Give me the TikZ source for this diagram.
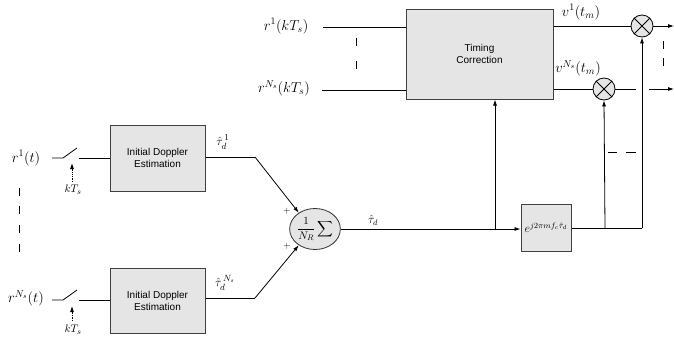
\documentclass[tikz,border=0pt]{standalone}
\usepackage{amsmath,amssymb}
\usepackage{fontspec}
\newfontfamily\boxfont{Liberation Sans}
\usetikzlibrary{arrows.meta,shapes.geometric}

\begin{document}
\begin{tikzpicture}[x=1pt,y=-1pt,line width=0.8pt,
	blk/.style={draw=black!75,fill=gray!20,line width=1pt,font=\boxfont\fontsize{10}{12}\selectfont,align=center,inner sep=0pt},
	lbl/.style={font=\fontsize{14.5}{16}\selectfont,inner sep=1pt},
	mult/.style={draw=black,fill=gray!20,circle,minimum size=22pt,inner sep=0pt},
	tip/.style={-{Latex[length=6pt,width=4pt]}},
	bar/.style={line width=1pt}]
	\useasboundingbox (0,0) rectangle (674,341);
	% blocks
	\node[blk,minimum width=95pt,minimum height=66pt] (ide1) at (157.5,158) {Initial Doppler\\Estimation};
	\node[blk,minimum width=95pt,minimum height=65pt] (ide2) at (157.5,300.5) {Initial Doppler\\Estimation};
	\node[blk,minimum width=147pt,minimum height=90pt] (tc) at (479.5,54) {Timing\\Correction};
	\node[blk,minimum width=50pt,minimum height=47pt] (ex) at (546,227.5) {\fontsize{12}{13}\selectfont$e^{j2\pi m f_c\hat{\tau}_d}$};
	\node[draw=black!80,fill=gray!20,ellipse,minimum width=50pt,minimum height=41pt,inner sep=0pt] (sum) at (315,229) {\fontsize{11}{12}\selectfont$\displaystyle\frac{1}{N_R}\sum$};
	\node[mult] (m1) at (642,26) {};
	\node[mult] (m2) at (604,89) {};
	\draw (m1.north west) -- (m1.south east) (m1.north east) -- (m1.south west);
	\draw (m2.north west) -- (m2.south east) (m2.north east) -- (m2.south west);
	% input side
	\node[lbl] (r1) at (26,158) {$r^{1}(t)$};
	\node[lbl] (rn) at (26,298) {$r^{N_s}(t)$};
	\node[lbl,font=\fontsize{11}{13}\selectfont] (k1) at (73,190) {$kT_s$};
	\node[lbl,font=\fontsize{11}{13}\selectfont] (k2) at (73,330) {$kT_s$};
	\coordinate (s1a) at (52,158); \coordinate (s1b) at (63,158);
	\coordinate (s1c) at (77,148); \coordinate (s1d) at (79,158);
	\coordinate (s2a) at (52,300); \coordinate (s2b) at (63,300);
	\coordinate (s2c) at (77,290); \coordinate (s2d) at (79,300);
	\draw (s1a) -- (s1b) -- (s1c);
	\draw (s1d) -- (s1d -| ide1.west);
	\draw (s2a) -- (s2b) -- (s2c);
	\draw (s2d) -- (s2d -| ide2.west);
	\draw[densely dotted,tip] (72,182) -- (72,163);
	\draw[densely dotted,tip] (72,321) -- (72,306);
	\foreach \y in {192,210,229,248}
		\draw[bar] (19,\y-4) -- (19,\y+4);
	% estimates to the sum
	\coordinate (b1) at (255,157);
	\coordinate (b2) at (255,298);
	\draw (ide1.east |- b1) -- (b1);
	\draw[tip] (b1) -- (sum.135);
	\draw (ide2.east |- b2) -- (b2);
	\draw[tip] (b2) -- (sum.225);
	\node[lbl,font=\fontsize{13}{15}\selectfont] at (223,142) {$\hat{\tau}^{\,1}_{d}$};
	\node[lbl,font=\fontsize{13}{15}\selectfont] at (225,283) {$\hat{\tau}^{\,N_s}_{d}$};
	\node[font=\small] at (287,211) {$+$};
	\node[font=\small] at (287,246) {$+$};
	% sum to phase term
	\draw[tip] (sum.east) -- (ex.west |- sum.east);
	\node[lbl,font=\fontsize{12}{13}\selectfont] at (373,220) {$\hat{\tau}_d$};
	\coordinate (j1) at (495,229);
	\draw[tip] (j1) -- (j1 |- tc.south);
	% timing correction
	\node[lbl] (rk1) at (286,26) {$r^{1}(kT_s)$};
	\node[lbl] (rkn) at (284,88) {$r^{N_s}(kT_s)$};
	\draw (323,27) -- (323,27 -| tc.west);
	\draw (322,90) -- (322,90 -| tc.west);
	\draw[bar] (356,38) -- (356,46) (356,61) -- (356,69);
	\node[lbl] at (581,12) {$v^{1}(t_m)$};
	\node[lbl] at (578,68) {$v^{N_s}(t_m)$};
	\draw (tc.east |- m1) -- (m1.west);
	\draw (tc.east |- m2) -- (m2.west);
	% phase term to multipliers
	\coordinate (j2) at (605,228);
	\coordinate (j3) at (642,228);
	\draw (ex.east |- j3) -- (j3);
	\draw[tip] (j2) -- (m2.south);
	\draw[tip] (j3) -- (m1.south);
	\draw[bar] (608,152) -- (617,152) (626,152) -- (636,152);
	% outputs
	\coordinate (o1) at (674,26);
	\coordinate (o2a) at (636,89);
	\coordinate (o2b) at (649,89);
	\coordinate (o2) at (674,89);
	\draw[tip] (m1.east) -- (o1);
	\draw (m2.east) -- (o2a);
	\draw[tip] (o2b) -- (o2);
	\draw[bar] (663,41) -- (663,49) (663,58) -- (663,66);
\end{tikzpicture}
\end{document}
